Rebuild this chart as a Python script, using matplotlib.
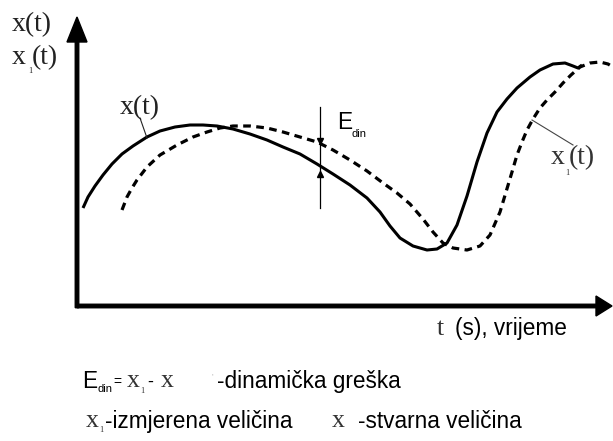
import numpy as np
import matplotlib
matplotlib.use("Agg")
import matplotlib.pyplot as plt

# ----------------------------------------------------------------------
# Curves (t, value); units are arbitrary.
# ----------------------------------------------------------------------
x_true_t = [6, 11, 18, 26, 35, 45, 56, 70, 83, 98, 113, 126, 140, 156, 173,
            190, 206, 223, 240, 256, 273, 290, 303, 313, 323, 336, 350, 360,
            370, 380, 390, 400, 410, 420, 430, 440, 453, 463, 476, 488, 496,
            501, 505]
x_true_v = [98, 109, 120, 131, 142, 152, 160, 169, 175, 179, 181, 181, 180,
            177, 172, 166, 159, 152, 142, 132, 121, 108, 94, 80, 68, 60, 56,
            57, 63, 81, 110, 144, 173, 194, 207, 218, 229, 236, 242, 243, 240,
            238, 241]

x_meas_t = [45, 50, 55, 60, 70, 83, 100, 116, 130, 143, 156, 173, 190, 206,
            223, 240, 256, 273, 290, 306, 320, 333, 346, 356, 366, 376, 390,
            403, 413, 423, 429, 435, 440, 445, 450, 456, 463, 470, 478, 486,
            494, 503, 513, 523, 531, 536]
x_meas_v = [96, 109, 118, 126, 139, 151, 161, 169, 174, 178, 180, 180, 178,
            174, 169, 164, 156, 146, 135, 123, 113, 102, 87, 74, 63, 58, 56,
            60, 71, 94, 114, 134, 151, 164, 176, 187, 198, 206, 214, 223, 231,
            239, 243, 244, 242, 239]

# dynamic error marker
edin_t = 243
edin_span = [98, 199]
edin_meas = 165
edin_true = 132

# label leaders
lead_x_t, lead_x_v = [63, 70], [188, 168]
lead_x1_t, lead_x1_v = [455, 496], [186, 161]

SERIF = "Liberation Serif"
SANS = "Liberation Sans"

fig = plt.figure(figsize=(6.13, 4.41), dpi=100)
fig.patch.set_facecolor("white")

# pixel-space overlay for the loose text
lay = fig.add_axes([0, 0, 1, 1])
lay.set_xlim(0, 613)
lay.set_ylim(441, 0)
lay.axis("off")

# main drawing area, origin at the corner of the axes
ax = fig.add_axes([77 / 613, (441 - 306) / 441, 536 / 613, 291 / 441])
ax.set_xlim(0, 536)
ax.set_ylim(0, 291)
ax.axis("off")

ax.arrow(0, 0, 535, 0, width=3.5, head_width=20, head_length=16,
         length_includes_head=True, color="black", clip_on=False)
ax.arrow(0, -1.7, 0, 290.7, width=3.5, head_width=20, head_length=25,
         length_includes_head=True, color="black", clip_on=False)

ax.plot(x_true_t, x_true_v, color="black", lw=2.2, solid_capstyle="butt",
        clip_on=False)
ax.plot(x_meas_t, x_meas_v, color="black", lw=2.3, linestyle=(0, (2.4, 1.7)),
        clip_on=False)

ax.plot([edin_t, edin_t], edin_span, color="black", lw=0.9)
ax.plot([edin_t], [edin_meas], marker="v", color="black", ms=4)
ax.plot([edin_t], [edin_true], marker="^", color="black", ms=4)

ax.plot(lead_x_t, lead_x_v, color="#222222", lw=0.8)
ax.plot(lead_x1_t, lead_x1_v, color="#444444", lw=0.8)


def put(x, y, s, size, family, color="black"):
    lay.text(x, y, s, fontsize=size, family=family, color=color,
             va="baseline", ha="left")


BIG = 20
MID = 18.5
SUB = 6
TXT = 16.3

# axis titles
put(12, 31, "x(t)", BIG, SERIF, "#222222")
put(12, 64, "x", BIG, SERIF, "#222222")
put(28, 73, "1", SUB, SERIF, "#222222")
put(32, 64, "(t)", BIG, SERIF, "#222222")

# curve labels
put(120, 114, "x(t)", BIG, SERIF, "#222222")
put(551, 164, "x", BIG, SERIF, "#333333")
put(565, 175, "1", SUB, SERIF, "#333333")
put(569, 164, "(t)", BIG, SERIF, "#333333")

put(337, 129, "E", TXT, SANS)
put(352, 137, "din", 8, SANS)

put(437, 335, "t", MID, SERIF, "#333333")
put(455, 335, "(s), vrijeme", TXT, SANS)

# legend text
put(82, 388, "E", TXT, SANS)
put(97, 392, "din", 8, SANS)
put(113, 386, "=", 10, SANS)
put(127, 387, "x", MID, SERIF, "#333333")
put(140, 393, "1", SUB, SERIF, "#333333")
put(147, 387, "-", 13, SANS)
put(161, 387, "x", MID, SERIF, "#333333")
put(211, 378, "'", 6, SANS, "#aaaaaa")
put(217, 388, "-dinamička greška", TXT, SANS)

put(86, 427, "x", MID, SERIF, "#333333")
put(99, 432, "1", SUB, SERIF, "#333333")
put(105, 428, "-izmjerena veličina", TXT, SANS)
put(332, 427, "x", MID, SERIF, "#333333")
put(358, 428, "-stvarna veličina", TXT, SANS)

fig.savefig("out.png", dpi=100, facecolor="white")
